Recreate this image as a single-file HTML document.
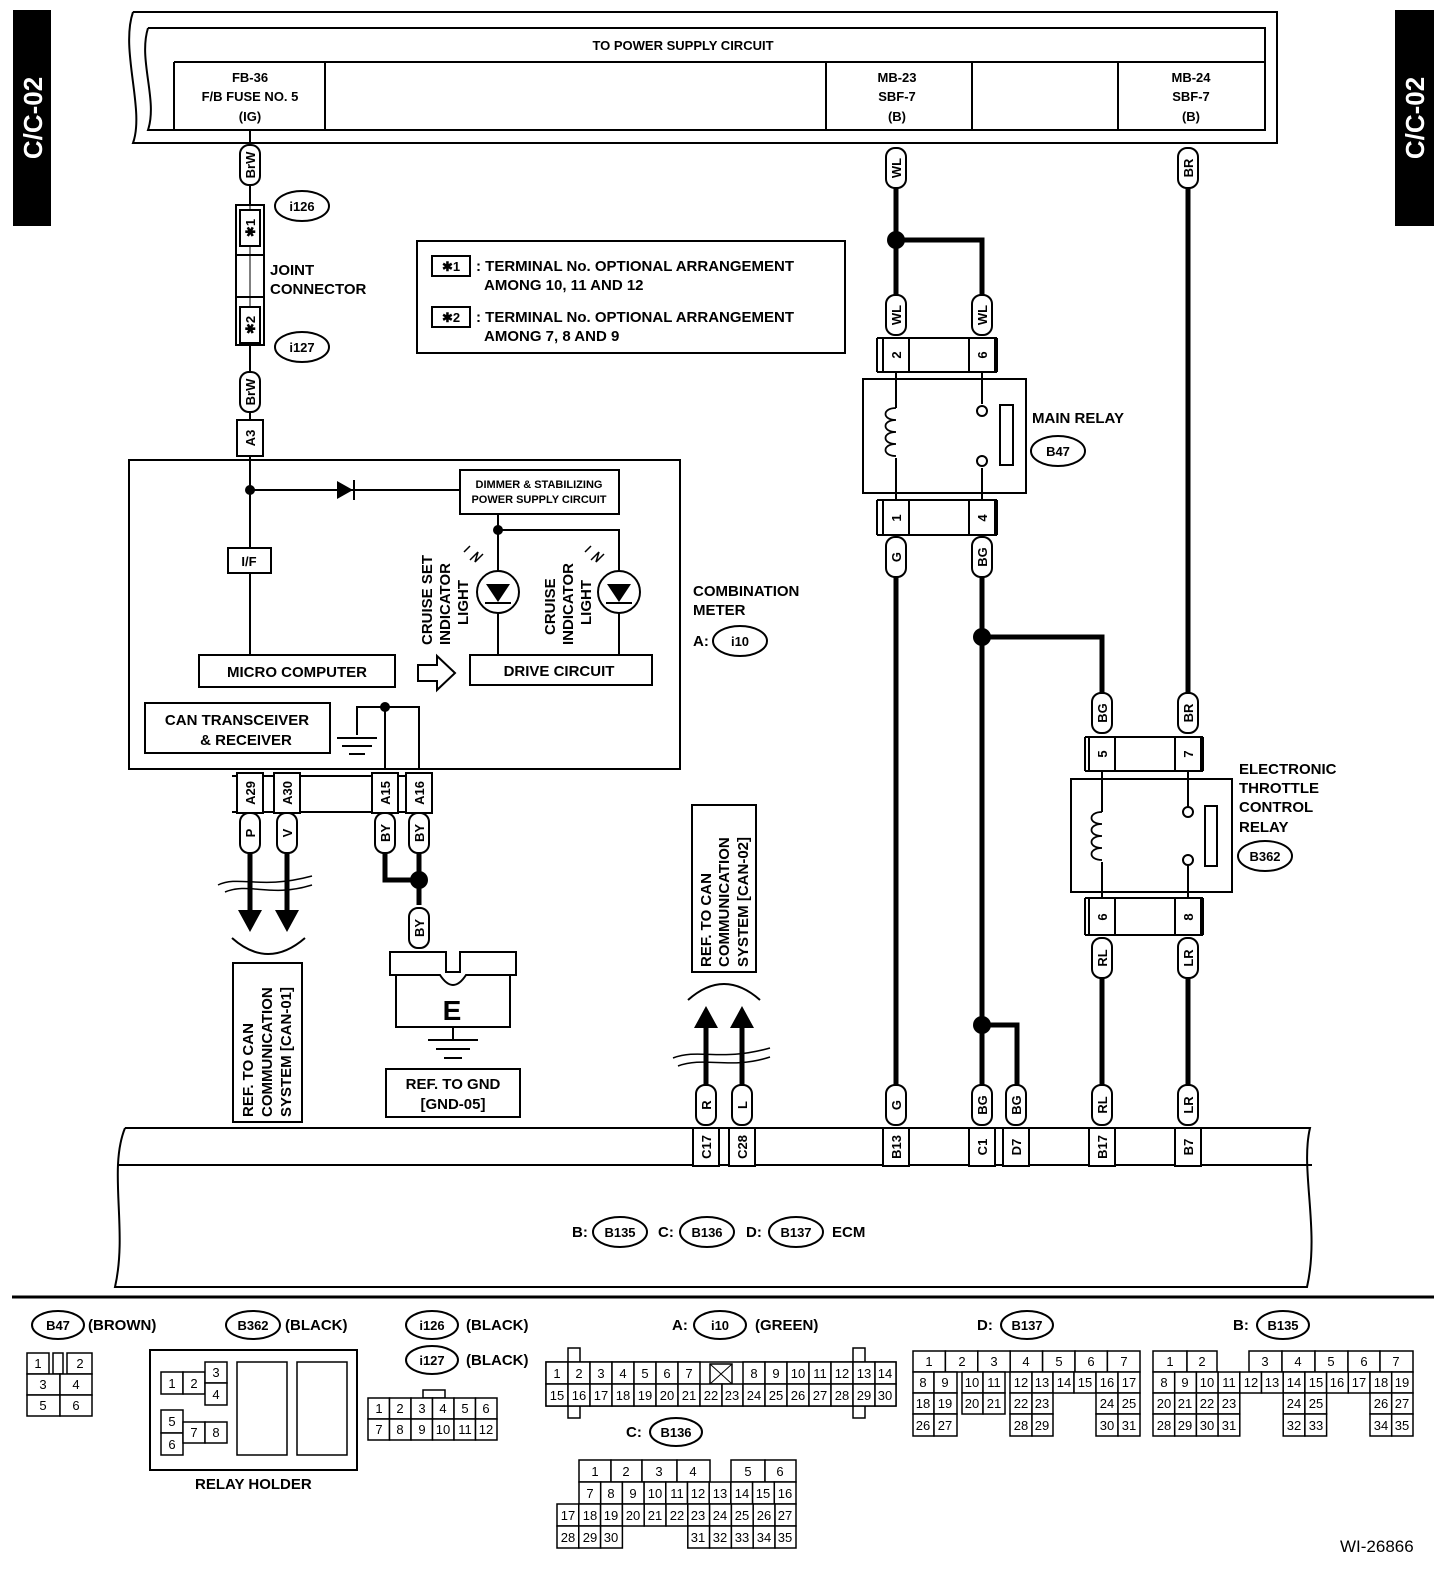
<!DOCTYPE html>
<html><head><meta charset="utf-8"><style>
html,body{margin:0;padding:0;background:#fff}
svg{display:block}
text{font-family:"Liberation Sans",sans-serif;font-weight:bold;fill:#000}
.t{font-size:15px}
.s{font-size:13px}
.c{text-anchor:middle}
.w{fill:none;stroke:#000;stroke-width:2}
.tw{fill:none;stroke:#000;stroke-width:5}
.b{fill:#fff;stroke:#000;stroke-width:2}
.g rect{fill:#fff;stroke:#000;stroke-width:1.5}
.g text{font-size:13px;font-weight:normal;text-anchor:middle}
</style></head><body>
<svg width="1456" height="1576" viewBox="0 0 1456 1576" xmlns="http://www.w3.org/2000/svg">
<defs>
<g id="pill"><rect x="-20" y="-10" width="40" height="20" rx="9" class="b"/></g>
</defs>
<!-- side tabs -->
<rect x="13" y="10" width="38" height="216" fill="#000"/>
<text transform="translate(42,118) rotate(-90)" class="c" style="font-size:26px;fill:#fff">C/C-02</text>
<rect x="1395" y="10" width="39" height="216" fill="#000"/>
<text transform="translate(1424,118) rotate(-90)" class="c" style="font-size:26px;fill:#fff">C/C-02</text>

<!-- top power block -->
<path class="w" d="M133,12 H1277 V143 H133 C145,110 120,50 133,12"/>
<path class="w" d="M148,28 H1265 V130 H148 C158,100 138,60 148,28"/>
<path class="w" d="M174,62 H1265 M174,62 V130 M325,62 V130 M826,62 V130 M972,62 V130 M1118,62 V130"/>
<text x="683" y="50" class="s c">TO POWER SUPPLY CIRCUIT</text>
<text x="250" y="82" class="s c">FB-36</text><text x="250" y="101" class="s c">F/B FUSE NO. 5</text><text x="250" y="121" class="s c">(IG)</text>
<text x="897" y="82" class="s c">MB-23</text><text x="897" y="101" class="s c">SBF-7</text><text x="897" y="121" class="s c">(B)</text>
<text x="1191" y="82" class="s c">MB-24</text><text x="1191" y="101" class="s c">SBF-7</text><text x="1191" y="121" class="s c">(B)</text>

<!-- BrW wire & joint connector -->
<line class="w" x1="250" y1="130" x2="250" y2="460"/>
<rect x="236" y="205" width="28" height="140" class="b"/>
<line class="w" x1="236" y1="255" x2="264" y2="255"/><line class="w" x1="236" y1="297" x2="264" y2="297"/>
<line class="w" x1="250" y1="130" x2="250" y2="460" style="stroke-width:1"/>
<rect x="240" y="210" width="20" height="36" class="b"/>
<text transform="translate(255,228) rotate(-90)" class="s c">✱1</text>
<rect x="240" y="307" width="20" height="36" class="b"/>
<text transform="translate(255,325) rotate(-90)" class="s c">✱2</text>
<g transform="translate(250,165) rotate(-90)"><use href="#pill"/><text y="5" class="s c">BrW</text></g>
<g transform="translate(250,392) rotate(-90)"><use href="#pill"/><text y="5" class="s c">BrW</text></g>
<rect x="237" y="420" width="26" height="36" class="b"/>
<text transform="translate(255,438) rotate(-90)" class="s c">A3</text>
<ellipse cx="302" cy="206" rx="27" ry="15" class="b"/><text x="302" y="211" class="s c">i126</text>
<ellipse cx="302" cy="347" rx="27" ry="15" class="b"/><text x="302" y="352" class="s c">i127</text>
<text x="270" y="275" class="t">JOINT</text><text x="270" y="294" class="t">CONNECTOR</text>

<!-- legend -->
<rect x="417" y="241" width="428" height="112" class="b"/>
<rect x="432" y="256" width="38" height="20" class="b"/><text x="451" y="271" class="s c">✱1</text>
<text x="476" y="271" class="t">: TERMINAL No. OPTIONAL ARRANGEMENT</text>
<text x="484" y="290" class="t">AMONG 10, 11 AND 12</text>
<rect x="432" y="307" width="38" height="20" class="b"/><text x="451" y="322" class="s c">✱2</text>
<text x="476" y="322" class="t">: TERMINAL No. OPTIONAL ARRANGEMENT</text>
<text x="484" y="341" class="t">AMONG 7, 8 AND 9</text>

<!-- combination meter -->
<rect x="129" y="460" width="551" height="309" class="b"/>
<line class="w" x1="250" y1="460" x2="250" y2="655"/>
<circle cx="250" cy="490" r="5"/>
<line class="w" x1="250" y1="490" x2="460" y2="490"/>
<path d="M337,481 L353,490 L337,499 Z"/><line class="w" x1="354" y1="480" x2="354" y2="500"/>
<rect x="460" y="470" width="159" height="44" class="b"/>
<text x="539" y="488" class="c" style="font-size:11px">DIMMER &amp; STABILIZING</text>
<text x="539" y="503" class="c" style="font-size:11px">POWER SUPPLY CIRCUIT</text>
<rect x="228" y="548" width="43" height="25" class="b"/><text x="249" y="566" class="s c">I/F</text>
<line class="w" x1="498" y1="514" x2="498" y2="655"/>
<circle cx="498" cy="530" r="5"/>
<path class="w" d="M498,530 H619 V655"/>
<circle cx="498" cy="592" r="21" class="b"/><path d="M486,584 H510 L498,602 Z"/><line class="w" x1="485" y1="603" x2="511" y2="603"/>
<circle cx="619" cy="592" r="21" class="b"/><path d="M607,584 H631 L619,602 Z"/><line class="w" x1="606" y1="603" x2="632" y2="603"/>
<path class="w" d="M470,560 l8,-8 l-3,10 l8,-8 M464,552 l6,-6" style="stroke-width:1.5"/>
<path class="w" d="M591,560 l8,-8 l-3,10 l8,-8 M585,552 l6,-6" style="stroke-width:1.5"/>
<text transform="translate(432,645) rotate(-90)" class="t">CRUISE SET</text>
<text transform="translate(450,645) rotate(-90)" class="t">INDICATOR</text>
<text transform="translate(468,625) rotate(-90)" class="t">LIGHT</text>
<text transform="translate(555,635) rotate(-90)" class="t">CRUISE</text>
<text transform="translate(573,645) rotate(-90)" class="t">INDICATOR</text>
<text transform="translate(591,625) rotate(-90)" class="t">LIGHT</text>
<rect x="470" y="655" width="182" height="30" class="b"/><text x="559" y="676" class="t c">DRIVE CIRCUIT</text>
<rect x="199" y="655" width="196" height="32" class="b"/><text x="297" y="677" class="t c">MICRO COMPUTER</text>
<path class="w" d="M418,665 H437 V656 L455,673 L437,690 V681 H418 Z"/>
<rect x="145" y="703" width="185" height="50" class="b"/>
<text x="237" y="725" class="t c">CAN TRANSCEIVER</text><text x="246" y="745" class="t c">&amp; RECEIVER</text>
<path class="w" d="M357,735 V707 H419 V769 M385,707 V769 M337,738 H377 M342,746 H372 M349,754 H365"/>
<circle cx="385" cy="707" r="5"/>
<text x="693" y="596" class="t">COMBINATION</text><text x="693" y="615" class="t">METER</text>
<text x="693" y="646" class="t">A:</text>
<ellipse cx="740" cy="641" rx="27" ry="15" class="b"/><text x="740" y="646" class="s c">i10</text>

<!-- meter pins -->
<path class="w" d="M232,776 H432 M232,812 H432"/>
<rect x="237" y="773" width="26" height="40" class="b"/><text transform="translate(255,793) rotate(-90)" class="s c">A29</text>
<rect x="274" y="773" width="26" height="40" class="b"/><text transform="translate(292,793) rotate(-90)" class="s c">A30</text>
<rect x="372" y="773" width="26" height="40" class="b"/><text transform="translate(390,793) rotate(-90)" class="s c">A15</text>
<rect x="406" y="773" width="26" height="40" class="b"/><text transform="translate(424,793) rotate(-90)" class="s c">A16</text>
<line class="tw" x1="250" y1="853" x2="250" y2="912"/><line class="tw" x1="287" y1="853" x2="287" y2="912"/>
<path d="M238,910 H262 L250,932 Z M275,910 H299 L287,932 Z"/>
<path class="w" d="M218,885 C240,875 260,890 312,876 M225,892 C250,882 270,898 312,885" style="stroke-width:1.5"/>
<path class="w" d="M232,938 Q268,970 305,938"/>
<g transform="translate(250,833) rotate(-90)"><use href="#pill"/><text y="5" class="s c">P</text></g>
<g transform="translate(287,833) rotate(-90)"><use href="#pill"/><text y="5" class="s c">V</text></g>
<path class="tw" d="M385,853 V880 H419 V905 M419,853 V880"/>
<circle cx="419" cy="880" r="9"/>
<g transform="translate(385,833) rotate(-90)"><use href="#pill"/><text y="5" class="s c">BY</text></g>
<g transform="translate(419,833) rotate(-90)"><use href="#pill"/><text y="5" class="s c">BY</text></g>
<g transform="translate(419,928) rotate(-90)"><use href="#pill"/><text y="5" class="s c">BY</text></g>
<path class="b" d="M390,952 H446 V972 H460 V952 H516 V975 H510 V1027 H396 V975 H390 Z"/>
<path class="w" d="M396,975 H440 Q453,995 466,975 H510"/>
<text x="452" y="1020" class="c" style="font-size:28px">E</text>
<path class="w" d="M453,1027 V1040 M428,1040 H478 M436,1049 H470 M444,1058 H462"/>
<rect x="386" y="1069" width="134" height="48" class="b"/>
<text x="453" y="1089" class="t c">REF. TO GND</text><text x="453" y="1109" class="t c">[GND-05]</text>
<rect x="233" y="963" width="69" height="159" class="b"/>
<text transform="translate(253,1117) rotate(-90)" class="t">REF. TO CAN</text>
<text transform="translate(272,1117) rotate(-90)" class="t">COMMUNICATION</text>
<text transform="translate(291,1117) rotate(-90)" class="t">SYSTEM [CAN-01]</text>

<!-- right REF -->
<rect x="692" y="805" width="64" height="167" class="b"/>
<text transform="translate(711,967) rotate(-90)" class="t">REF. TO CAN</text>
<text transform="translate(729,967) rotate(-90)" class="t">COMMUNICATION</text>
<text transform="translate(748,967) rotate(-90)" class="t">SYSTEM [CAN-02]</text>
<path class="w" d="M688,1000 Q724,968 760,1000"/>
<line class="tw" x1="706" y1="1025" x2="706" y2="1085"/><line class="tw" x1="742" y1="1025" x2="742" y2="1085"/>
<path d="M694,1028 H718 L706,1006 Z M730,1028 H754 L742,1006 Z"/>
<path class="w" d="M673,1058 C700,1048 720,1062 770,1048 M678,1066 C705,1056 730,1070 770,1057" style="stroke-width:1.5"/>
<g transform="translate(706,1105) rotate(-90)"><use href="#pill"/><text y="5" class="s c">R</text></g>
<g transform="translate(742,1105) rotate(-90)"><use href="#pill"/><text y="5" class="s c">L</text></g>

<!-- main relay wiring -->
<line class="tw" x1="896" y1="188" x2="896" y2="295"/>
<path class="tw" d="M896,240 H982 V295"/>
<circle cx="896" cy="240" r="9"/>
<g transform="translate(896,168) rotate(-90)"><use href="#pill"/><text y="5" class="s c">WL</text></g>
<g transform="translate(896,315) rotate(-90)"><use href="#pill"/><text y="5" class="s c">WL</text></g>
<g transform="translate(982,315) rotate(-90)"><use href="#pill"/><text y="5" class="s c">WL</text></g>
<path class="w" d="M877,338 H997 M877,372 H997 M877,338 V372 M997,338 V372"/>
<rect x="883" y="338" width="26" height="34" class="b"/><text transform="translate(901,355) rotate(-90)" class="s c">2</text>
<rect x="969" y="338" width="26" height="34" class="b"/><text transform="translate(987,355) rotate(-90)" class="s c">6</text>
<rect x="863" y="379" width="163" height="114" class="b"/>
<path class="w" d="M896,372 V408 M896,458 V500 M982,372 V404 M982,468 V500"/>
<path class="w" d="M896,408 c-14,0 -14,12 0,12 c-14,0 -14,12 0,12 c-14,0 -14,12 0,12 c-14,0 -14,12 0,12" style="stroke-width:1.8"/>
<circle cx="982" cy="411" r="5" class="b"/><circle cx="982" cy="461" r="5" class="b"/>
<rect x="1000" y="405" width="13" height="60" class="b"/>
<path class="w" d="M877,500 H997 M877,535 H997 M877,500 V535 M997,500 V535"/>
<rect x="883" y="500" width="26" height="35" class="b"/><text transform="translate(901,518) rotate(-90)" class="s c">1</text>
<rect x="969" y="500" width="26" height="35" class="b"/><text transform="translate(987,518) rotate(-90)" class="s c">4</text>
<text x="1032" y="423" class="t">MAIN RELAY</text>
<ellipse cx="1058" cy="451" rx="27" ry="15" class="b"/><text x="1058" y="456" class="s c">B47</text>
<line class="tw" x1="896" y1="577" x2="896" y2="1085"/>
<line class="tw" x1="982" y1="577" x2="982" y2="1085"/>
<path class="tw" d="M982,637 H1102 V693 M982,1025 H1017 V1085"/>
<circle cx="982" cy="637" r="9"/><circle cx="982" cy="1025" r="9"/>
<g transform="translate(896,557) rotate(-90)"><use href="#pill"/><text y="5" class="s c">G</text></g>
<g transform="translate(982,557) rotate(-90)"><use href="#pill"/><text y="5" class="s c">BG</text></g>

<!-- ETC relay -->
<line class="tw" x1="1188" y1="188" x2="1188" y2="693"/>
<g transform="translate(1188,168) rotate(-90)"><use href="#pill"/><text y="5" class="s c">BR</text></g>
<g transform="translate(1102,713) rotate(-90)"><use href="#pill"/><text y="5" class="s c">BG</text></g>
<g transform="translate(1188,713) rotate(-90)"><use href="#pill"/><text y="5" class="s c">BR</text></g>
<path class="w" d="M1085,737 H1203 M1085,771 H1203 M1085,737 V771 M1203,737 V771"/>
<rect x="1089" y="737" width="26" height="34" class="b"/><text transform="translate(1107,754) rotate(-90)" class="s c">5</text>
<rect x="1175" y="737" width="26" height="34" class="b"/><text transform="translate(1193,754) rotate(-90)" class="s c">7</text>
<rect x="1071" y="779" width="161" height="113" class="b"/>
<path class="w" d="M1102,771 V812 M1102,862 V898 M1188,771 V807 M1188,865 V898"/>
<path class="w" d="M1102,812 c-14,0 -14,12 0,12 c-14,0 -14,12 0,12 c-14,0 -14,12 0,12 c-14,0 -14,12 0,12" style="stroke-width:1.8"/>
<circle cx="1188" cy="812" r="5" class="b"/><circle cx="1188" cy="860" r="5" class="b"/>
<rect x="1205" y="806" width="12" height="60" class="b"/>
<path class="w" d="M1085,898 H1203 M1085,935 H1203 M1085,898 V935 M1203,898 V935"/>
<rect x="1089" y="898" width="26" height="37" class="b"/><text transform="translate(1107,917) rotate(-90)" class="s c">6</text>
<rect x="1175" y="898" width="26" height="37" class="b"/><text transform="translate(1193,917) rotate(-90)" class="s c">8</text>
<line class="tw" x1="1102" y1="978" x2="1102" y2="1085"/><line class="tw" x1="1188" y1="978" x2="1188" y2="1085"/>
<g transform="translate(1102,958) rotate(-90)"><use href="#pill"/><text y="5" class="s c">RL</text></g>
<g transform="translate(1188,958) rotate(-90)"><use href="#pill"/><text y="5" class="s c">LR</text></g>
<text x="1239" y="774" class="t">ELECTRONIC</text><text x="1239" y="793" class="t">THROTTLE</text>
<text x="1239" y="812" class="t">CONTROL</text><text x="1239" y="832" class="t">RELAY</text>
<ellipse cx="1265" cy="856" rx="27" ry="15" class="b"/><text x="1265" y="861" class="s c">B362</text>

<!-- bottom pills -->
<g transform="translate(896,1105) rotate(-90)"><use href="#pill"/><text y="5" class="s c">G</text></g>
<g transform="translate(982,1105) rotate(-90)"><use href="#pill"/><text y="5" class="s c">BG</text></g>
<g transform="translate(1016,1105) rotate(-90)"><use href="#pill"/><text y="5" class="s c">BG</text></g>
<g transform="translate(1102,1105) rotate(-90)"><use href="#pill"/><text y="5" class="s c">RL</text></g>
<g transform="translate(1188,1105) rotate(-90)"><use href="#pill"/><text y="5" class="s c">LR</text></g>

<!-- ECM -->
<path class="w" d="M125,1128 H1310 C1300,1170 1320,1230 1307,1287 H115 C128,1230 108,1170 125,1128 M118,1165 H1312"/>
<rect x="693" y="1128" width="26" height="38" class="b"/><text transform="translate(711,1147) rotate(-90)" class="s c">C17</text>
<rect x="729" y="1128" width="26" height="38" class="b"/><text transform="translate(747,1147) rotate(-90)" class="s c">C28</text>
<rect x="883" y="1128" width="26" height="38" class="b"/><text transform="translate(901,1147) rotate(-90)" class="s c">B13</text>
<rect x="969" y="1128" width="26" height="38" class="b"/><text transform="translate(987,1147) rotate(-90)" class="s c">C1</text>
<rect x="1003" y="1128" width="26" height="38" class="b"/><text transform="translate(1021,1147) rotate(-90)" class="s c">D7</text>
<rect x="1089" y="1128" width="26" height="38" class="b"/><text transform="translate(1107,1147) rotate(-90)" class="s c">B17</text>
<rect x="1175" y="1128" width="26" height="38" class="b"/><text transform="translate(1193,1147) rotate(-90)" class="s c">B7</text>
<text x="572" y="1237" class="t">B:</text>
<ellipse cx="620" cy="1232" rx="27" ry="15" class="b"/><text x="620" y="1237" class="s c">B135</text>
<text x="658" y="1237" class="t">C:</text>
<ellipse cx="707" cy="1232" rx="27" ry="15" class="b"/><text x="707" y="1237" class="s c">B136</text>
<text x="746" y="1237" class="t">D:</text>
<ellipse cx="796" cy="1232" rx="27" ry="15" class="b"/><text x="796" y="1237" class="s c">B137</text>
<text x="832" y="1237" class="t">ECM</text>

<line x1="12" y1="1297" x2="1434" y2="1297" stroke="#000" stroke-width="3"/>

<!-- connector legends -->
<ellipse cx="58" cy="1325" rx="26" ry="14" class="b"/><text x="58" y="1330" class="s c">B47</text>
<text x="88" y="1330" class="t">(BROWN)</text>
<ellipse cx="253" cy="1325" rx="27" ry="14" class="b"/><text x="253" y="1330" class="s c">B362</text>
<text x="285" y="1330" class="t">(BLACK)</text>
<ellipse cx="432" cy="1325" rx="26" ry="14" class="b"/><text x="432" y="1330" class="s c">i126</text>
<text x="466" y="1330" class="t">(BLACK)</text>
<ellipse cx="432" cy="1360" rx="26" ry="14" class="b"/><text x="432" y="1365" class="s c">i127</text>
<text x="466" y="1365" class="t">(BLACK)</text>
<text x="672" y="1330" class="t">A:</text>
<ellipse cx="720" cy="1325" rx="26" ry="14" class="b"/><text x="720" y="1330" class="s c">i10</text>
<text x="755" y="1330" class="t">(GREEN)</text>
<text x="977" y="1330" class="t">D:</text>
<ellipse cx="1027" cy="1325" rx="26" ry="14" class="b"/><text x="1027" y="1330" class="s c">B137</text>
<text x="1233" y="1330" class="t">B:</text>
<ellipse cx="1283" cy="1325" rx="26" ry="14" class="b"/><text x="1283" y="1330" class="s c">B135</text>
<text x="626" y="1437" class="t">C:</text>
<ellipse cx="676" cy="1432" rx="26" ry="14" class="b"/><text x="676" y="1437" class="s c">B136</text>

<g class="g">
<!-- B47 -->
<rect x="27" y="1353" width="22" height="21"/><text x="38" y="1368">1</text>
<rect x="53" y="1353" width="10" height="21"/>
<rect x="67" y="1353" width="25" height="21"/><text x="80" y="1368">2</text>
<rect x="27" y="1374" width="33" height="21"/><text x="43" y="1389">3</text>
<rect x="60" y="1374" width="32" height="21"/><text x="76" y="1389">4</text>
<rect x="27" y="1395" width="33" height="21"/><text x="43" y="1410">5</text>
<rect x="60" y="1395" width="32" height="21"/><text x="76" y="1410">6</text>
<!-- relay holder -->
<rect x="150" y="1350" width="207" height="120" style="stroke-width:2"/>
<rect x="161" y="1372" width="22" height="22"/><text x="172" y="1388">1</text>
<rect x="183" y="1372" width="22" height="22"/><text x="194" y="1388">2</text>
<rect x="205" y="1362" width="22" height="21"/><text x="216" y="1377">3</text>
<rect x="205" y="1383" width="22" height="22"/><text x="216" y="1399">4</text>
<rect x="161" y="1410" width="22" height="23"/><text x="172" y="1426">5</text>
<rect x="161" y="1433" width="22" height="22"/><text x="172" y="1449">6</text>
<rect x="183" y="1422" width="22" height="21"/><text x="194" y="1437">7</text>
<rect x="205" y="1422" width="22" height="21"/><text x="216" y="1437">8</text>
<rect x="237" y="1362" width="50" height="93"/>
<rect x="297" y="1362" width="50" height="93"/>
<!-- i126 -->
<rect x="423" y="1390" width="22" height="8"/>
<rect x="368" y="1398" width="21.5" height="21"/><text x="379" y="1413">1</text>
<rect x="389.5" y="1398" width="21.5" height="21"/><text x="400" y="1413">2</text>
<rect x="411" y="1398" width="21.5" height="21"/><text x="422" y="1413">3</text>
<rect x="432.5" y="1398" width="21.5" height="21"/><text x="443" y="1413">4</text>
<rect x="454" y="1398" width="21.5" height="21"/><text x="465" y="1413">5</text>
<rect x="475.5" y="1398" width="21.5" height="21"/><text x="486" y="1413">6</text>
<rect x="368" y="1419" width="21.5" height="21"/><text x="379" y="1434">7</text>
<rect x="389.5" y="1419" width="21.5" height="21"/><text x="400" y="1434">8</text>
<rect x="411" y="1419" width="21.5" height="21"/><text x="422" y="1434">9</text>
<rect x="432.5" y="1419" width="21.5" height="21"/><text x="443" y="1434">10</text>
<rect x="454" y="1419" width="21.5" height="21"/><text x="465" y="1434">11</text>
<rect x="475.5" y="1419" width="21.5" height="21"/><text x="486" y="1434">12</text>
</g>

<!-- A:i10 -->
<g class="g">
<rect x="568" y="1348" width="12" height="70"/><rect x="853" y="1348" width="12" height="70"/>
<rect x="546" y="1362" width="350" height="44"/>
<rect x="546" y="1362" width="22" height="22"/><text x="557" y="1378">1</text>
<rect x="568" y="1362" width="22" height="22"/><text x="579" y="1378">2</text>
<rect x="590" y="1362" width="22" height="22"/><text x="601" y="1378">3</text>
<rect x="612" y="1362" width="22" height="22"/><text x="623" y="1378">4</text>
<rect x="634" y="1362" width="22" height="22"/><text x="645" y="1378">5</text>
<rect x="656" y="1362" width="22" height="22"/><text x="667" y="1378">6</text>
<rect x="678" y="1362" width="22" height="22"/><text x="689" y="1378">7</text>
<rect x="710" y="1364" width="22" height="20"/><path d="M710,1364 L732,1384 M732,1364 L710,1384" stroke="#000" stroke-width="1"/>
<rect x="743" y="1362" width="22" height="22"/><text x="754" y="1378">8</text>
<rect x="765" y="1362" width="22" height="22"/><text x="776" y="1378">9</text>
<rect x="787" y="1362" width="22" height="22"/><text x="798" y="1378">10</text>
<rect x="809" y="1362" width="22" height="22"/><text x="820" y="1378">11</text>
<rect x="831" y="1362" width="22" height="22"/><text x="842" y="1378">12</text>
<rect x="853" y="1362" width="22" height="22"/><text x="864" y="1378">13</text>
<rect x="875" y="1362" width="21" height="22"/><text x="885" y="1378">14</text>
<rect x="546" y="1384" width="22" height="22"/><text x="557" y="1400">15</text>
<rect x="568" y="1384" width="22" height="22"/><text x="579" y="1400">16</text>
<rect x="590" y="1384" width="22" height="22"/><text x="601" y="1400">17</text>
<rect x="612" y="1384" width="22" height="22"/><text x="623" y="1400">18</text>
<rect x="634" y="1384" width="22" height="22"/><text x="645" y="1400">19</text>
<rect x="656" y="1384" width="22" height="22"/><text x="667" y="1400">20</text>
<rect x="678" y="1384" width="22" height="22"/><text x="689" y="1400">21</text>
<rect x="700" y="1384" width="22" height="22"/><text x="711" y="1400">22</text>
<rect x="722" y="1384" width="21" height="22"/><text x="732" y="1400">23</text>
<rect x="743" y="1384" width="22" height="22"/><text x="754" y="1400">24</text>
<rect x="765" y="1384" width="22" height="22"/><text x="776" y="1400">25</text>
<rect x="787" y="1384" width="22" height="22"/><text x="798" y="1400">26</text>
<rect x="809" y="1384" width="22" height="22"/><text x="820" y="1400">27</text>
<rect x="831" y="1384" width="22" height="22"/><text x="842" y="1400">28</text>
<rect x="853" y="1384" width="22" height="22"/><text x="864" y="1400">29</text>
<rect x="875" y="1384" width="21" height="22"/><text x="885" y="1400">30</text>
</g>

<!-- C:B136 -->
<g class="g">
<rect x="579" y="1460" width="32" height="22"/><text x="595" y="1476">1</text>
<rect x="611" y="1460" width="31" height="22"/><text x="626" y="1476">2</text>
<rect x="642" y="1460" width="35" height="22"/><text x="659" y="1476">3</text>
<rect x="677" y="1460" width="33" height="22"/><text x="693" y="1476">4</text>
<rect x="731" y="1460" width="34" height="22"/><text x="748" y="1476">5</text>
<rect x="765" y="1460" width="31" height="22"/><text x="780" y="1476">6</text>
<rect x="579" y="1482" width="21.7" height="22"/><text x="590" y="1498">7</text>
<rect x="600.7" y="1482" width="21.7" height="22"/><text x="611" y="1498">8</text>
<rect x="622.4" y="1482" width="21.7" height="22"/><text x="633" y="1498">9</text>
<rect x="644.1" y="1482" width="21.7" height="22"/><text x="655" y="1498">10</text>
<rect x="665.8" y="1482" width="21.7" height="22"/><text x="677" y="1498">11</text>
<rect x="687.5" y="1482" width="21.7" height="22"/><text x="698" y="1498">12</text>
<rect x="709.2" y="1482" width="21.7" height="22"/><text x="720" y="1498">13</text>
<rect x="730.9" y="1482" width="21.7" height="22"/><text x="742" y="1498">14</text>
<rect x="752.6" y="1482" width="21.7" height="22"/><text x="763" y="1498">15</text>
<rect x="774.3" y="1482" width="21.7" height="22"/><text x="785" y="1498">16</text>
<rect x="557" y="1504" width="21.8" height="22"/><text x="568" y="1520">17</text>
<rect x="578.8" y="1504" width="21.8" height="22"/><text x="590" y="1520">18</text>
<rect x="600.6" y="1504" width="21.8" height="22"/><text x="611" y="1520">19</text>
<rect x="622.4" y="1504" width="21.8" height="22"/><text x="633" y="1520">20</text>
<rect x="644.2" y="1504" width="21.8" height="22"/><text x="655" y="1520">21</text>
<rect x="666" y="1504" width="21.8" height="22"/><text x="677" y="1520">22</text>
<rect x="687.8" y="1504" width="21.8" height="22"/><text x="698" y="1520">23</text>
<rect x="709.6" y="1504" width="21.8" height="22"/><text x="720" y="1520">24</text>
<rect x="731.4" y="1504" width="21.8" height="22"/><text x="742" y="1520">25</text>
<rect x="753.2" y="1504" width="21.8" height="22"/><text x="764" y="1520">26</text>
<rect x="775" y="1504" width="21" height="22"/><text x="785" y="1520">27</text>
<rect x="557" y="1526" width="21.8" height="22"/><text x="568" y="1542">28</text>
<rect x="578.8" y="1526" width="21.8" height="22"/><text x="590" y="1542">29</text>
<rect x="600.6" y="1526" width="21.8" height="22"/><text x="611" y="1542">30</text>
<rect x="687.8" y="1526" width="21.8" height="22"/><text x="698" y="1542">31</text>
<rect x="709.6" y="1526" width="21.8" height="22"/><text x="720" y="1542">32</text>
<rect x="731.4" y="1526" width="21.8" height="22"/><text x="742" y="1542">33</text>
<rect x="753.2" y="1526" width="21.8" height="22"/><text x="764" y="1542">34</text>
<rect x="775" y="1526" width="21" height="22"/><text x="785" y="1542">35</text>
</g>

<!-- D:B137 -->
<g class="g">
<rect x="913" y="1351" width="32.4" height="21"/><text x="929" y="1366">1</text>
<rect x="945.4" y="1351" width="32.4" height="21"/><text x="962" y="1366">2</text>
<rect x="977.8" y="1351" width="32.4" height="21"/><text x="994" y="1366">3</text>
<rect x="1010.2" y="1351" width="32.4" height="21"/><text x="1026" y="1366">4</text>
<rect x="1042.6" y="1351" width="32.4" height="21"/><text x="1059" y="1366">5</text>
<rect x="1075" y="1351" width="32.4" height="21"/><text x="1091" y="1366">6</text>
<rect x="1107.4" y="1351" width="32.6" height="21"/><text x="1124" y="1366">7</text>
<rect x="913" y="1372" width="21" height="21"/><text x="923" y="1387">8</text>
<rect x="934" y="1372" width="23" height="21"/><text x="945" y="1387">9</text>
<rect x="962" y="1372" width="21" height="21"/><text x="972" y="1387">10</text>
<rect x="983" y="1372" width="22" height="21"/><text x="994" y="1387">11</text>
<rect x="1010" y="1372" width="22" height="21"/><text x="1021" y="1387">12</text>
<rect x="1032" y="1372" width="21" height="21"/><text x="1042" y="1387">13</text>
<rect x="1053" y="1372" width="21" height="21"/><text x="1064" y="1387">14</text>
<rect x="1074" y="1372" width="22" height="21"/><text x="1085" y="1387">15</text>
<rect x="1096" y="1372" width="22" height="21"/><text x="1107" y="1387">16</text>
<rect x="1118" y="1372" width="22" height="21"/><text x="1129" y="1387">17</text>
<rect x="913" y="1393" width="21" height="21"/><text x="923" y="1408">18</text>
<rect x="934" y="1393" width="23" height="21"/><text x="945" y="1408">19</text>
<rect x="962" y="1393" width="21" height="21"/><text x="972" y="1408">20</text>
<rect x="983" y="1393" width="22" height="21"/><text x="994" y="1408">21</text>
<rect x="1010" y="1393" width="22" height="21"/><text x="1021" y="1408">22</text>
<rect x="1032" y="1393" width="21" height="21"/><text x="1042" y="1408">23</text>
<rect x="1096" y="1393" width="22" height="21"/><text x="1107" y="1408">24</text>
<rect x="1118" y="1393" width="22" height="21"/><text x="1129" y="1408">25</text>
<rect x="913" y="1414" width="21" height="22"/><text x="923" y="1430">26</text>
<rect x="934" y="1414" width="23" height="22"/><text x="945" y="1430">27</text>
<rect x="1010" y="1414" width="22" height="22"/><text x="1021" y="1430">28</text>
<rect x="1032" y="1414" width="21" height="22"/><text x="1042" y="1430">29</text>
<rect x="1096" y="1414" width="22" height="22"/><text x="1107" y="1430">30</text>
<rect x="1118" y="1414" width="22" height="22"/><text x="1129" y="1430">31</text>
</g>

<!-- B:B135 -->
<g class="g">
<rect x="1153" y="1351" width="34" height="21"/><text x="1170" y="1366">1</text>
<rect x="1187" y="1351" width="30" height="21"/><text x="1202" y="1366">2</text>
<rect x="1249" y="1351" width="33" height="21"/><text x="1265" y="1366">3</text>
<rect x="1282" y="1351" width="33" height="21"/><text x="1298" y="1366">4</text>
<rect x="1315" y="1351" width="33" height="21"/><text x="1331" y="1366">5</text>
<rect x="1348" y="1351" width="32" height="21"/><text x="1364" y="1366">6</text>
<rect x="1380" y="1351" width="33" height="21"/><text x="1396" y="1366">7</text>
<rect x="1153" y="1372" width="21.7" height="21"/><text x="1164" y="1387">8</text>
<rect x="1174.7" y="1372" width="21.7" height="21"/><text x="1185" y="1387">9</text>
<rect x="1196.4" y="1372" width="21.7" height="21"/><text x="1207" y="1387">10</text>
<rect x="1218.1" y="1372" width="21.7" height="21"/><text x="1229" y="1387">11</text>
<rect x="1239.8" y="1372" width="21.7" height="21"/><text x="1251" y="1387">12</text>
<rect x="1261.5" y="1372" width="21.7" height="21"/><text x="1272" y="1387">13</text>
<rect x="1283.2" y="1372" width="21.7" height="21"/><text x="1294" y="1387">14</text>
<rect x="1304.9" y="1372" width="21.7" height="21"/><text x="1316" y="1387">15</text>
<rect x="1326.6" y="1372" width="21.7" height="21"/><text x="1337" y="1387">16</text>
<rect x="1348.3" y="1372" width="21.7" height="21"/><text x="1359" y="1387">17</text>
<rect x="1370" y="1372" width="21.7" height="21"/><text x="1381" y="1387">18</text>
<rect x="1391.7" y="1372" width="21.3" height="21"/><text x="1402" y="1387">19</text>
<rect x="1153" y="1393" width="21.7" height="21"/><text x="1164" y="1408">20</text>
<rect x="1174.7" y="1393" width="21.7" height="21"/><text x="1185" y="1408">21</text>
<rect x="1196.4" y="1393" width="21.7" height="21"/><text x="1207" y="1408">22</text>
<rect x="1218.1" y="1393" width="21.7" height="21"/><text x="1229" y="1408">23</text>
<rect x="1283.2" y="1393" width="21.7" height="21"/><text x="1294" y="1408">24</text>
<rect x="1304.9" y="1393" width="21.7" height="21"/><text x="1316" y="1408">25</text>
<rect x="1370" y="1393" width="21.7" height="21"/><text x="1381" y="1408">26</text>
<rect x="1391.7" y="1393" width="21.3" height="21"/><text x="1402" y="1408">27</text>
<rect x="1153" y="1414" width="21.7" height="22"/><text x="1164" y="1430">28</text>
<rect x="1174.7" y="1414" width="21.7" height="22"/><text x="1185" y="1430">29</text>
<rect x="1196.4" y="1414" width="21.7" height="22"/><text x="1207" y="1430">30</text>
<rect x="1218.1" y="1414" width="21.7" height="22"/><text x="1229" y="1430">31</text>
<rect x="1283.2" y="1414" width="21.7" height="22"/><text x="1294" y="1430">32</text>
<rect x="1304.9" y="1414" width="21.7" height="22"/><text x="1316" y="1430">33</text>
<rect x="1370" y="1414" width="21.7" height="22"/><text x="1381" y="1430">34</text>
<rect x="1391.7" y="1414" width="21.3" height="22"/><text x="1402" y="1430">35</text>
</g>

<text x="1340" y="1552" style="font-size:17px;font-weight:normal">WI-26866</text>
<text x="195" y="1489" class="t">RELAY HOLDER</text>
</svg>
</body></html>
